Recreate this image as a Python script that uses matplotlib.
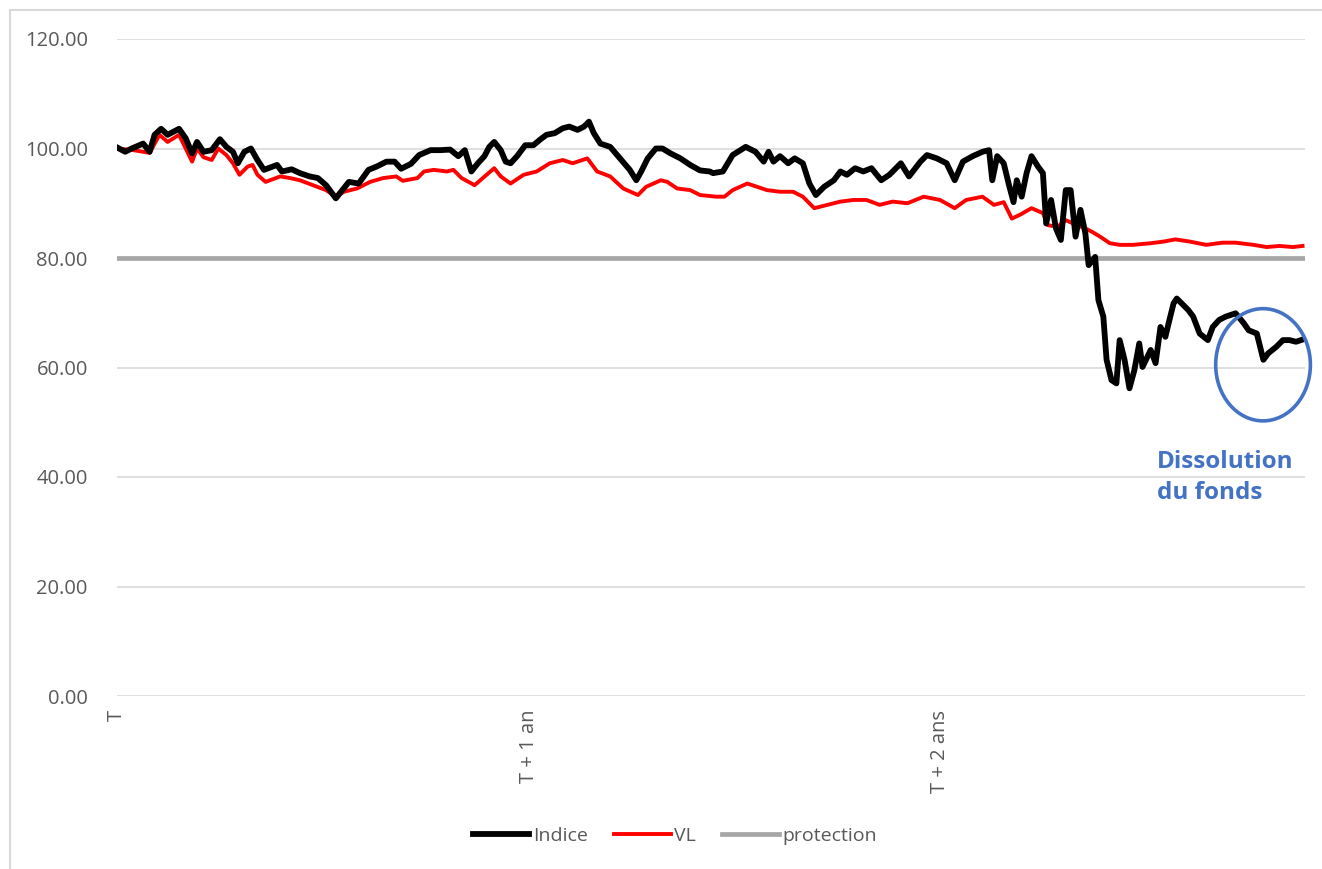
"""
Indice vs VL vs protection level, with fund dissolution marker.
"""

import numpy as np
import matplotlib
matplotlib.use("Agg")
import matplotlib.pyplot as plt
from matplotlib.patches import Ellipse
from matplotlib.lines import Line2D

# ── Data (trading days since T) ─────────────────────────────────────────────
INDICE_DAYS = [
    0, 5, 9, 16, 20, 23, 27, 31, 38, 42, 46, 49, 53, 58, 63, 67, 71, 74, 78, 82,
    86, 90, 98, 101, 107, 112, 118, 123, 128, 134, 138, 142, 148, 154, 159, 165,
    170, 174, 180, 185, 192, 198, 204, 209, 213, 217, 221, 225, 228, 231, 235,
    238, 241, 245, 250, 255, 259, 263, 268, 273, 277, 282, 286, 289, 292, 296,
    302, 308, 314, 318, 321, 325, 330, 334, 339, 345, 351, 357, 363, 365, 371,
    377, 385, 391, 396, 399, 402, 406, 411, 415, 420, 424, 428, 433, 439, 443,
    447, 452, 457, 462, 468, 473, 480, 485, 492, 496, 502, 508, 513, 518, 524,
    530, 534, 536, 539, 543, 546, 549, 551, 554, 557, 560, 564, 567, 569, 572,
    575, 578, 581, 584, 587, 590, 593, 595, 599, 601, 604, 606, 609, 612, 614,
    617, 620, 623, 626, 628, 633, 636, 639, 642, 644, 647, 649, 652, 656, 659,
    663, 668, 671, 675, 679, 685, 690, 693, 698, 702, 705, 710, 714, 718, 722,
    725,
]
INDICE = [
    100.2, 99.4, 100.0, 100.9, 99.4, 102.5, 103.6, 102.5, 103.6, 101.9, 99.1,
    101.2, 99.4, 99.7, 101.7, 100.3, 99.4, 97.3, 99.4, 100.0, 97.9, 96.1, 97.0,
    95.8, 96.2, 95.5, 94.9, 94.6, 93.3, 90.9, 92.4, 93.9, 93.6, 96.1, 96.7,
    97.6, 97.6, 96.3, 97.2, 98.8, 99.7, 99.7, 99.8, 98.6, 99.7, 95.8, 97.3,
    98.6, 100.3, 101.2, 99.7, 97.6, 97.3, 98.6, 100.6, 100.6, 101.6, 102.5,
    102.8, 103.7, 104.0, 103.4, 104.0, 104.9, 102.8, 100.9, 100.3, 98.2, 96.1,
    94.2, 95.8, 98.2, 100.0, 100.0, 99.1, 98.2, 97.0, 96.0, 95.8, 95.5, 95.8,
    98.8, 100.3, 99.4, 97.6, 99.4, 97.6, 98.6, 97.3, 98.2, 97.3, 93.6, 91.5,
    93.0, 94.2, 95.8, 95.2, 96.4, 95.8, 96.4, 94.2, 95.2, 97.3, 94.9, 97.6,
    98.8, 98.2, 97.3, 94.2, 97.6, 98.6, 99.4, 99.7, 94.2, 98.6, 97.3, 93.6,
    90.2, 94.2, 91.2, 95.5, 98.6, 96.7, 95.5, 86.3, 90.6, 85.4, 83.3, 92.4,
    92.4, 83.9, 88.8, 84.5, 78.7, 80.2, 72.3, 69.3, 61.4, 57.7, 57.1, 65.0,
    61.4, 56.2, 59.5, 64.4, 60.1, 63.2, 60.8, 67.4, 65.6, 68.1, 71.7, 72.6,
    71.7, 70.5, 69.3, 66.2, 65.0, 67.4, 68.7, 69.3, 69.9, 68.1, 66.8, 66.2,
    61.4, 62.6, 63.8, 65.0, 65.0, 64.7, 65.0,
]

VL_DAYS = [
    0, 10, 20, 26, 31, 38, 46, 49, 53, 58, 62, 67, 71, 75, 80, 83, 86, 91, 100,
    106, 112, 120, 128, 134, 139, 147, 155, 163, 171, 175, 184, 188, 194, 202,
    206, 211, 219, 224, 231, 235, 241, 249, 257, 265, 273, 279, 288, 294, 302,
    310, 319, 324, 333, 337, 343, 351, 357, 367, 372, 377, 386, 392, 398, 406,
    414, 420, 427, 435, 443, 451, 459, 467, 475, 484, 494, 504, 513, 520, 530,
    537, 543, 548, 553, 560, 567, 570, 576, 581, 588, 593, 597, 602, 608, 614,
    622, 633, 641, 648, 657, 667, 677, 685, 696, 704, 712, 720, 726,
]
VL = [
    100.0, 99.7, 99.2, 102.5, 101.2, 102.5, 97.6, 100.0, 98.4, 97.9, 100.0,
    98.8, 97.3, 95.2, 96.7, 97.0, 95.2, 93.9, 94.9, 94.6, 94.2, 93.3, 92.4,
    91.2, 92.1, 92.7, 93.9, 94.6, 94.9, 94.1, 94.6, 95.8, 96.1, 95.8, 96.1,
    94.6, 93.3, 94.6, 96.4, 94.9, 93.6, 95.2, 95.8, 97.3, 97.9, 97.3, 98.2,
    95.8, 94.9, 92.7, 91.5, 93.0, 94.2, 93.9, 92.7, 92.4, 91.5, 91.2, 91.2,
    92.4, 93.6, 93.0, 92.4, 92.1, 92.1, 91.2, 89.1, 89.7, 90.3, 90.6, 90.6,
    89.7, 90.3, 90.0, 91.2, 90.6, 89.1, 90.6, 91.2, 89.7, 90.2, 87.2, 87.9,
    89.1, 88.2, 86.0, 85.7, 86.9, 86.0, 85.4, 84.8, 83.9, 82.7, 82.4, 82.4,
    82.7, 83.0, 83.4, 83.0, 82.4, 82.8, 82.8, 82.4, 82.0, 82.2, 82.0, 82.2,
]

PROTECTION_LEVEL = 80.0
PROTECTION_DAYS  = [0, 727]

TICK_DAYS   = [0, 252, 504]
TICK_LABELS = ["T", "T + 1 an", "T + 2 ans"]
Y_TICKS     = [0, 20, 40, 60, 80, 100, 120]

# ── Styling ───────────────────────────────────────────────────────────────────
FONT       = ["Open Sans", "DejaVu Sans"]
TEXT_GREY  = "#595959"
GRID_GREY  = "#d9d9d9"
PROT_GREY  = "#a6a6a6"
BLUE       = "#4472c4"
W, H, DPI  = 1322, 869, 100

plt.rcParams["font.family"] = FONT

fig = plt.figure(figsize=(W / DPI, H / DPI), dpi=DPI)
ax = fig.add_axes([117 / W, 1 - 696 / H, (1305 - 117) / W, (696 - 39) / H])

ax.plot(INDICE_DAYS, INDICE, color="black", lw=4.2, solid_joinstyle="round",
        label="Indice", zorder=4)
ax.plot(VL_DAYS, VL, color="#ff0000", lw=2.8, solid_joinstyle="round",
        label="VL", zorder=3)
ax.plot(PROTECTION_DAYS, [PROTECTION_LEVEL] * len(PROTECTION_DAYS),
        color=PROT_GREY, lw=3.4, label="protection", zorder=2)

ax.set_xlim(0, 727.5)
ax.set_ylim(0, 120)
ax.set_yticks(Y_TICKS)
ax.set_yticklabels([f"{v:.2f}" for v in Y_TICKS])
ax.set_xticks(TICK_DAYS)
ax.set_xticklabels(TICK_LABELS, rotation=90, va="top", ha="center")
ax.tick_params(axis="both", length=0, labelsize=14.5, labelcolor=TEXT_GREY)
ax.tick_params(axis="y", pad=21)
ax.tick_params(axis="x", pad=10)
ax.grid(axis="y", color=GRID_GREY, lw=1.2)
ax.set_axisbelow(True)
for s in ax.spines.values():
    s.set_visible(False)

# ── Dissolution marker ───────────────────────────────────────────────────────
ax.add_patch(Ellipse((701.8, 60.5), 58, 20.5, fill=False, edgecolor=BLUE,
                     lw=2.6, clip_on=False, zorder=5))
fig.text(1157 / W, 1 - 450 / H, "Dissolution\ndu fonds", color=BLUE,
         fontsize=17.5, fontweight="bold", ha="left", va="top", linespacing=1.4)

# ── Legend ────────────────────────────────────────────────────────────────────
handles, labels = ax.get_legend_handles_labels()
fig.legend(handles, labels, loc="center", bbox_to_anchor=(675 / W, 1 - 836 / H),
           ncol=3, frameon=False, fontsize=14, labelcolor=TEXT_GREY,
           handlelength=2.9, handletextpad=0.2, columnspacing=1.35)

# ── Chart-area border (left and top edges only visible) ─────────────────────
fig.add_artist(Line2D([10 / W, 10 / W], [0, 1 - 10 / H], color=GRID_GREY, lw=1.5))
fig.add_artist(Line2D([10 / W, 1], [1 - 10 / H, 1 - 10 / H], color=GRID_GREY, lw=1.5))

fig.savefig("out.png", dpi=DPI)
plt.close(fig)
